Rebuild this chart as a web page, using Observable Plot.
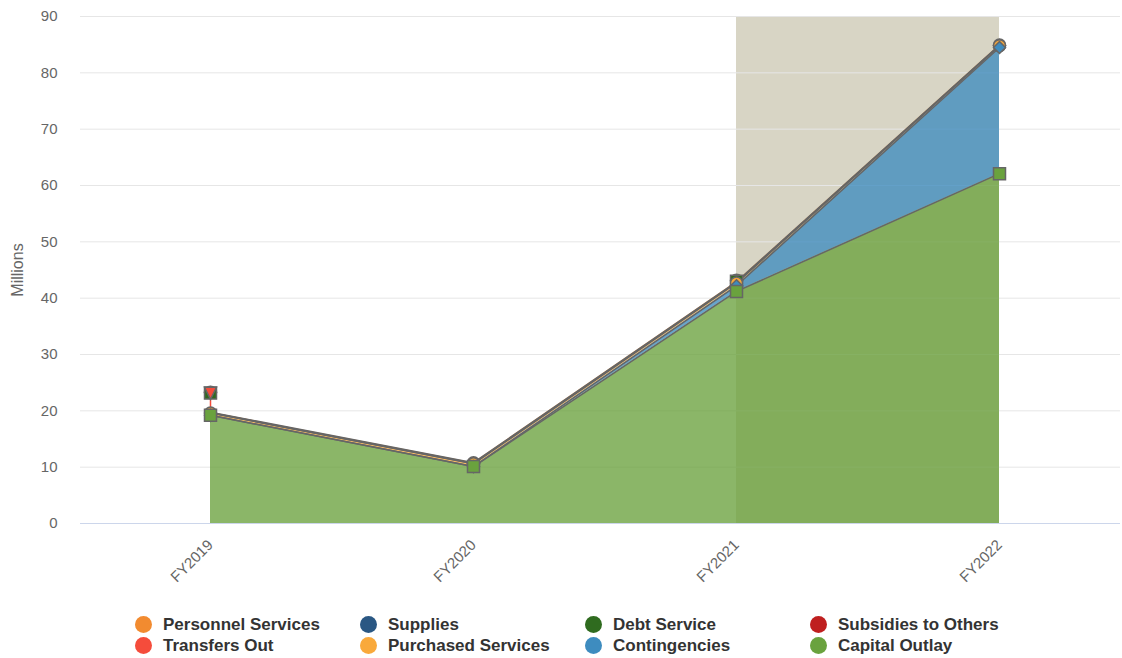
<!DOCTYPE html>
<html><head><meta charset="utf-8">
<script src="https://cdn.jsdelivr.net/npm/d3@7"></script>
<script src="https://cdn.jsdelivr.net/npm/@observablehq/plot@0.6"></script>
<style>
body{margin:0;background:#fff;font-family:"Liberation Sans",Arial,Helvetica,sans-serif;}
#chart{position:absolute;left:0;top:0;}
#legend{position:absolute;left:135px;top:614px;display:grid;grid-template-columns:repeat(4,225px);}
.item{display:flex;align-items:center;height:21px;font-weight:bold;font-size:17px;color:#333;white-space:nowrap;}
.sw{width:17px;height:17px;border-radius:50%;margin-right:11px;flex:none;}
</style></head><body>
<div id="chart"></div><div id="legend"></div>
<script>
const years = ["FY2019", "FY2020", "FY2021", "FY2022"];
const seriesNames = ["Personnel Services", "Supplies", "Debt Service", "Subsidies to Others",
  "Transfers Out", "Purchased Services", "Contingencies", "Capital Outlay"];
const colors = ["#f28b30", "#2a5783", "#2f6b1f", "#bf1f1f", "#f54c3b", "#f9a93b", "#3e8cbf", "#6aa23e"];

const personnelServices = [0.1, 0.15, 0.15, 0.1];
const supplies = [0.05, 0.05, 0.05, 0.05];
const debtService = [0.05, null, 0.3, null];
const subsidiesToOthers = [null, null, null, null];
const transfersOut = [3.5, null, null, null];
const purchasedServices = [0.4, 0.5, 0.5, 0.3];
const contingencies = [0, 0, 1.0, 22.4];
const capitalOutlay = [19.2, 10.1, 41.2, 62.1];

const plotBand = ["FY2021", "FY2022"];
const yTicks = [0, 10, 20, 30, 40, 50, 60, 70, 80, 90];

// Highcharts-like marker shapes (inscribed in a 2r box)
const rad = size => Math.sqrt(size / Math.PI);
const hcCircle = {draw(c, s) { const r = rad(s); c.moveTo(r, 0); c.arc(0, 0, r, 0, 2 * Math.PI); c.closePath(); }};
const hcSquare = {draw(c, s) { const r = rad(s); c.rect(-r, -r, 2 * r, 2 * r); }};
const hcDiamond = {draw(c, s) { const r = rad(s); c.moveTo(0, -r); c.lineTo(r, 0); c.lineTo(0, r); c.lineTo(-r, 0); c.closePath(); }};
const hcTriangle = {draw(c, s) { const r = rad(s); c.moveTo(0, -r); c.lineTo(r, r); c.lineTo(-r, r); c.closePath(); }};
const hcTriangleDown = {draw(c, s) { const r = rad(s); c.moveTo(-r, -r); c.lineTo(r, -r); c.lineTo(0, r); c.closePath(); }};
const symbols = [hcCircle, hcDiamond, hcSquare, hcTriangle, hcTriangleDown, hcCircle, hcDiamond, hcSquare];

const values = [personnelServices, supplies, debtService, subsidiesToOthers,
  transfersOut, purchasedServices, contingencies, capitalOutlay];

// full table (markers, isolated points)
const rows = [];
seriesNames.forEach((s, i) => years.forEach((y, j) => {
  const v = values[i][j];
  const isolated = v != null && (j === 0 || values[i][j - 1] == null) && (j === years.length - 1 || values[i][j + 1] == null);
  rows.push({series: s, year: y, value: v, isolated});
}));

// per-segment tables: a series missing at either end of a segment does not stack in it (Highcharts "cliff")
const segments = d3.range(years.length - 1).map(j => {
  const out = [];
  seriesNames.forEach((s, i) => {
    const a = values[i][j], b = values[i][j + 1];
    const ok = a != null && b != null;
    out.push({series: s, year: years[j], value: ok ? a : 0, ok});
    out.push({series: s, year: years[j + 1], value: ok ? b : 0, ok});
  });
  return out;
});

const stackOrder = seriesNames.slice().reverse();
const st = {x: "year", y: "value", z: "series", order: stackOrder};
const defined = d => d.value != null;
const ok = d => d.ok;

const marks = [
  Plot.rect([plotBand], {x1: d => d[0], x2: d => d[1], fill: "#d8d5c5"}),
  Plot.gridY(yTicks, {stroke: "#e6e6e6", strokeOpacity: 1}),
  Plot.ruleY([0], {stroke: "#ccd6eb", strokeWidth: 1})
];
segments.forEach(seg => {
  marks.push(Plot.areaY(seg, Plot.filter(ok, Plot.stackY({...st, fill: "series", fillOpacity: 0.78}))));
});
segments.forEach(seg => {
  marks.push(Plot.lineY(seg, Plot.filter(ok, Plot.stackY2({...st, stroke: "#666", strokeWidth: 1.5, strokeLinecap: "round"}))));
});
marks.push(Plot.ruleX(rows, Plot.filter(d => d.isolated, Plot.stackY({...st, stroke: "series", strokeWidth: 1.5}))));
seriesNames.forEach((s, i) => {
  marks.push(Plot.dot(rows, Plot.filter(d => d.series === s && defined(d),
    Plot.stackY2({...st, fill: "series", symbol: symbols[i], r: 6, stroke: "#666", strokeWidth: 1.5}))));
});
marks.push(
  Plot.axisY(yTicks, {tickSize: 0, tickPadding: 23, fontSize: 15, color: "#666", label: null}),
  Plot.text(["Millions"], {frameAnchor: "left", dx: -63, rotate: -90, textAnchor: "middle", fontSize: 16, fill: "#666"}),
  Plot.axisX({tickSize: 0, tickRotate: -45, tickPadding: 19, fontSize: 15, color: "#666", label: null})
);

const chart = Plot.plot({
  width: 1122,
  height: 600,
  marginLeft: 80,
  marginRight: 2,
  marginTop: 16,
  marginBottom: 77,
  style: {fontFamily: '"Liberation Sans", Arial, sans-serif', fontSize: "15px", color: "#666", background: "#fff"},
  x: {type: "point", domain: years, range: [210, 999], padding: 0},
  y: {domain: [0, 90]},
  color: {domain: seriesNames, range: colors},
  marks
});
document.getElementById("chart").appendChild(chart);

const legend = document.getElementById("legend");
seriesNames.forEach((s, i) => {
  const el = document.createElement("div");
  el.className = "item";
  el.innerHTML = `<span class="sw" style="background:${colors[i]}"></span><span>${s}</span>`;
  legend.appendChild(el);
});
</script>
</body></html>
